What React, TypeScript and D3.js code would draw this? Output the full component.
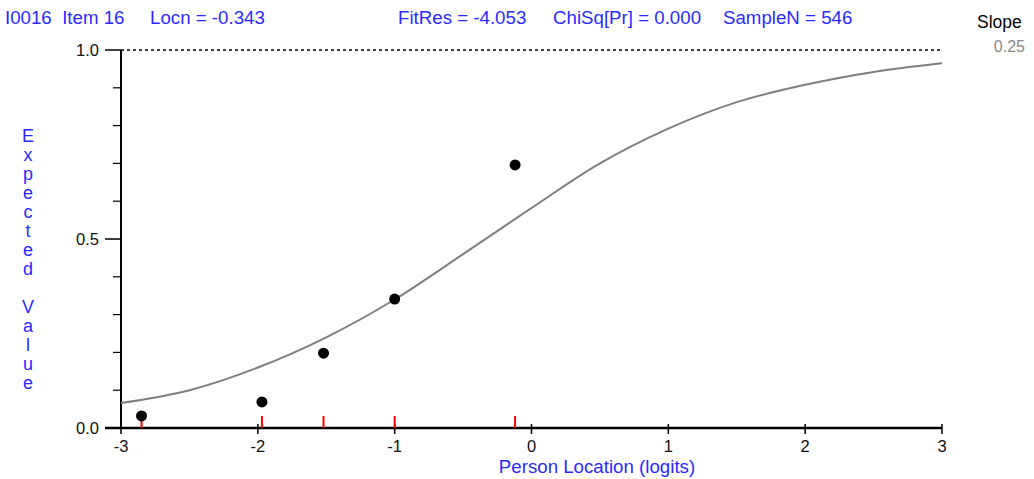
import React from "react";
import * as d3 from "d3";

// Observed data points (person location class intervals)
const obsLocations = [-2.85, -1.97, -1.52, -1.0, -0.12];
const obsValues = [0.032, 0.069, 0.198, 0.341, 0.696];

// Expected value curve
const curveLocations = [-3, -2.5, -2, -1.5, -1, -0.5, 0, 0.5, 1, 1.5, 2, 2.5, 3];
const curveValues = [0.066, 0.1, 0.16, 0.24, 0.34, 0.46, 0.582, 0.7, 0.792, 0.862, 0.908, 0.942, 0.965];

const xTicks = [-3, -2, -1, 0, 1, 2, 3];
const yMajorTicks = [0, 0.5, 1];
const yMinorTicks = [0.1, 0.2, 0.3, 0.4, 0.6, 0.7, 0.8, 0.9];

const titleParts = [
  { text: "I0016  Item 16", x: 5 },
  { text: "Locn = -0.343", x: 150 },
  { text: "FitRes = -4.053", x: 398 },
  { text: "ChiSq[Pr] = 0.000", x: 553 },
  { text: "SampleN = 546", x: 723 },
];
const yLabel = "Expected Value";
const xLabel = "Person Location (logits)";

const W = 1034;
const H = 479;
const BLUE = "#2a2aff";
const FONT = "'Liberation Sans', Arial, sans-serif";

export default function App() {
  const x = d3.scaleLinear().domain([-3, 3]).range([121, 942]);
  const y = d3.scaleLinear().domain([0, 1]).range([428, 50]);

  const line = d3
    .line<number>()
    .x((_, i) => x(curveLocations[i]))
    .y((d) => y(d))
    .curve(d3.curveMonotoneX);

  const letters = yLabel.split("");

  return (
    <svg
      width={W}
      height={H}
      style={{ position: "absolute", left: 0, top: 0, background: "#fff" }}
      fontFamily={FONT}
    >
      <rect x={0} y={0} width={W} height={H} fill="#fff" />
      {titleParts.map((t, i) => (
        <text key={i} x={t.x} y={24} fontSize={18.7} fill={BLUE} style={{ whiteSpace: "pre" }}>
          {t.text}
        </text>
      ))}
      <text x={977} y={28} fontSize={17.5} fill="#000">Slope</text>
      <text x={1025} y={52} fontSize={16} fill="#888" textAnchor="end">0.25</text>

      {/* dashed line at 1.0 */}
      <line x1={x(-3)} x2={x(3)} y1={y(1)} y2={y(1)} stroke="#000" strokeWidth={1.4} strokeDasharray="3,3" />

      {/* y axis */}
      <line x1={x(-3)} x2={x(-3)} y1={y(1)} y2={y(0)} stroke="#000" strokeWidth={2} />
      {yMajorTicks.map((t) => (
        <g key={t}>
          <line x1={105} x2={x(-3)} y1={y(t)} y2={y(t)} stroke="#000" strokeWidth={1.5} />
          <text x={99} y={y(t) + 6} fontSize={16.5} textAnchor="end" fill="#111">
            {t.toFixed(1)}
          </text>
        </g>
      ))}
      {yMinorTicks.map((t) => (
        <line key={t} x1={113} x2={x(-3)} y1={y(t)} y2={y(t)} stroke="#000" strokeWidth={1.2} />
      ))}

      {/* x axis */}
      <line x1={105} x2={x(3)} y1={y(0)} y2={y(0)} stroke="#000" strokeWidth={2.5} />
      {xTicks.map((t) => (
        <g key={t}>
          <line x1={x(t)} x2={x(t)} y1={y(0) - 4} y2={y(0) + 6} stroke="#000" strokeWidth={1.5} />
          <text x={x(t)} y={452} fontSize={16.5} textAnchor="middle" fill="#111">
            {t}
          </text>
        </g>
      ))}

      {/* red ticks at observed locations */}
      {obsLocations.map((l, i) => (
        <line key={i} x1={x(l)} x2={x(l)} y1={y(0)} y2={y(0) - 12} stroke="#ff0000" strokeWidth={2} />
      ))}

      {/* expected curve */}
      <path d={line(curveValues) || ""} fill="none" stroke="#7f7f7f" strokeWidth={2} />

      {/* observed points */}
      {obsLocations.map((l, i) => (
        <circle key={i} cx={x(l)} cy={y(obsValues[i])} r={5.5} fill="#000" />
      ))}

      {/* axis labels */}
      <text x={597} y={473} fontSize={18.7} textAnchor="middle" fill={BLUE}>
        {xLabel}
      </text>
      {letters.map((c, i) => (
        <text key={i} x={28} y={142 + i * 19} fontSize={18} textAnchor="middle" fill={BLUE}>
          {c}
        </text>
      ))}
    </svg>
  );
}
